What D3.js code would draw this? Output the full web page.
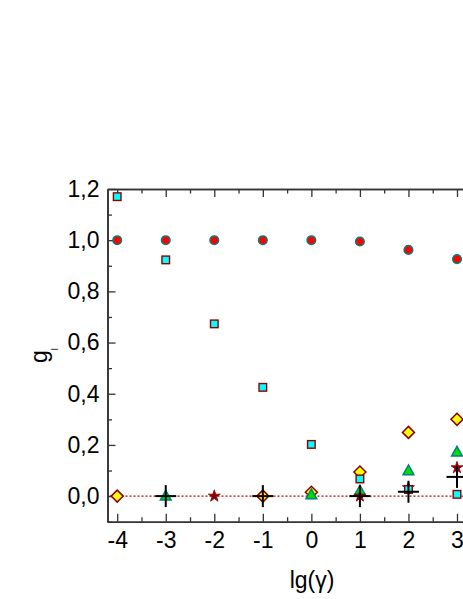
<!DOCTYPE html>
<html><head><meta charset="utf-8">
<script src="https://cdn.jsdelivr.net/npm/d3@7"></script>
<style>
html,body{margin:0;padding:0;background:#fff;overflow:hidden;}
svg{display:block;font-family:"Liberation Sans",Arial,sans-serif;}
</style></head>
<body>
<svg id="c" width="463" height="599"></svg>
<script>
// ---- data ----
const xTicks = [-4, -3, -2, -1, 0, 1, 2, 3];
const yTicks = [0, 0.2, 0.4, 0.6, 0.8, 1.0, 1.2];
const circleX = [-4, -3, -2, -1, 0, 1, 2, 3];
const circleY = [1.0, 1.0, 1.0, 1.0, 1.0, 0.995, 0.962, 0.926];
const squareX = [-4, -3, -2, -1, 0, 1, 2, 3];
const squareY = [1.17, 0.923, 0.673, 0.425, 0.202, 0.067, 0.026, 0.007];
const diamondX = [-4, -1, 0, 1, 2, 3];
const diamondY = [0.0, 0.0, 0.015, 0.094, 0.249, 0.300];
const triangleX = [-3, 0, 1, 2, 3];
const triangleY = [0.0, 0.005, 0.02, 0.099, 0.172];
const starX = [-2, 1, 2, 3];
const starY = [0.0, 0.0, 0.033, 0.111];
const plusX = [-3, -1, 1, 2, 3];
const plusY = [0.0, 0.0, 0.0, 0.017, 0.075];
const xLabel = "lg(γ)";

// ---- layout ----
const svg = d3.select("#c");
const L = 107.5, R = 466.7, T = 189, B = 521.7;
const x = d3.scaleLinear().domain([-4.2, 3.2]).range([L, R]);
const y = d3.scaleLinear().domain([-0.1, 1.2]).range([B, T]);
const fmtY = d => d.toFixed(1).replace(".", ",");
const fmtX = d => String(d);
const axisColor = "#333";

function styleAxis(g) {
  g.select(".domain").attr("stroke", axisColor).attr("stroke-width", 1.6);
  g.selectAll(".tick line").attr("stroke", axisColor).attr("stroke-width", 1.3);
  g.selectAll("text").attr("fill", "#000").attr("font-size", 23)
    .attr("font-family", "Liberation Sans, Arial, sans-serif");
}

const xMinor = d3.range(-3.5, 3.0, 1);
const yMinor = d3.range(-0.1, 1.2, 0.2).map(v => +v.toFixed(2));

// bottom axis
svg.append("g").attr("transform", `translate(0,${B})`)
  .call(d3.axisBottom(x).tickValues(xTicks).tickSize(-8).tickSizeOuter(0).tickPadding(10).tickFormat(fmtX))
  .call(styleAxis);
svg.append("g").attr("transform", `translate(0,${B})`)
  .call(d3.axisBottom(x).tickValues(xMinor).tickSize(-4.5).tickSizeOuter(0).tickFormat(""))
  .call(styleAxis);
// top axis
svg.append("g").attr("transform", `translate(0,${T})`)
  .call(d3.axisTop(x).tickValues(xTicks).tickSize(-8).tickSizeOuter(0).tickFormat(""))
  .call(styleAxis);
svg.append("g").attr("transform", `translate(0,${T})`)
  .call(d3.axisTop(x).tickValues(xMinor).tickSize(-4.5).tickSizeOuter(0).tickFormat(""))
  .call(styleAxis);
// left axis
svg.append("g").attr("transform", `translate(${L},0)`)
  .call(d3.axisLeft(y).tickValues(yTicks).tickSize(-8).tickSizeOuter(0).tickPadding(8).tickFormat(fmtY))
  .call(styleAxis);
svg.append("g").attr("transform", `translate(${L},0)`)
  .call(d3.axisLeft(y).tickValues(yMinor).tickSize(-4.5).tickSizeOuter(0).tickFormat(""))
  .call(styleAxis);

// dotted zero line
svg.append("line")
  .attr("x1", L + 2).attr("x2", 463)
  .attr("y1", y(0)).attr("y2", y(0))
  .attr("stroke", "#c00000").attr("stroke-width", 1.3).attr("stroke-dasharray", "2,2");

const plot = svg.append("g");
function pts(xs, ys) { return xs.map((v, i) => [v, ys[i]]); }

// circles
plot.selectAll(".ci").data(pts(circleX, circleY)).join("circle")
  .attr("cx", d => x(d[0])).attr("cy", d => y(d[1])).attr("r", 4.3)
  .attr("fill", "#ff0000").attr("stroke", "#008080").attr("stroke-width", 1.5);

// diamonds
plot.selectAll(".di").data(pts(diamondX, diamondY)).join("path")
  .attr("transform", d => `translate(${x(d[0])},${y(d[1])})`)
  .attr("d", "M0,-6L6,0L0,6L-6,0Z")
  .attr("fill", "#ffff00").attr("stroke", "#8b0000").attr("stroke-width", 1.5);

// triangles
plot.selectAll(".tr").data(pts(triangleX, triangleY)).join("path")
  .attr("transform", d => `translate(${x(d[0])},${y(d[1])})`)
  .attr("d", "M0,-5.8L5.4,4L-5.4,4Z")
  .attr("fill", "#00e000").attr("stroke", "#008080").attr("stroke-width", 1.5);

// stars
plot.selectAll(".st").data(pts(starX, starY)).join("path")
  .attr("transform", d => `translate(${x(d[0])},${y(d[1])})`)
  .attr("d", d3.symbol(d3.symbolStar, 45)())
  .attr("fill", "#8b0000").attr("stroke", "#8b0000").attr("stroke-width", 0.8);

// squares
plot.selectAll(".sq").data(pts(squareX, squareY)).join("rect")
  .attr("x", d => x(d[0]) - 3.8).attr("y", d => y(d[1]) - 3.8)
  .attr("width", 7.6).attr("height", 7.6)
  .attr("fill", "#00ffff").attr("stroke", "#8b0000").attr("stroke-width", 1.4);

// plus
const pg = plot.selectAll(".pl").data(pts(plusX, plusY)).join("g")
  .attr("transform", d => `translate(${x(d[0])},${y(d[1])})`);
pg.append("line").attr("x1", -10.5).attr("x2", 10.5).attr("y1", 0).attr("y2", 0)
  .attr("stroke", "#000").attr("stroke-width", 2);
pg.append("line").attr("x1", 0).attr("x2", 0).attr("y1", -11).attr("y2", 11)
  .attr("stroke", "#000").attr("stroke-width", 2);

// axis titles
svg.append("text").attr("x", 312).attr("y", 588).attr("text-anchor", "middle")
  .attr("font-size", 23).attr("fill", "#000").text(xLabel);

const yl = svg.append("text").attr("transform", "translate(47,363) rotate(-90)")
  .attr("font-size", 23).attr("fill", "#000");
yl.append("tspan").text("g");
yl.append("tspan").attr("font-size", 9).attr("dy", 11).text("l");
</script>
</body></html>
